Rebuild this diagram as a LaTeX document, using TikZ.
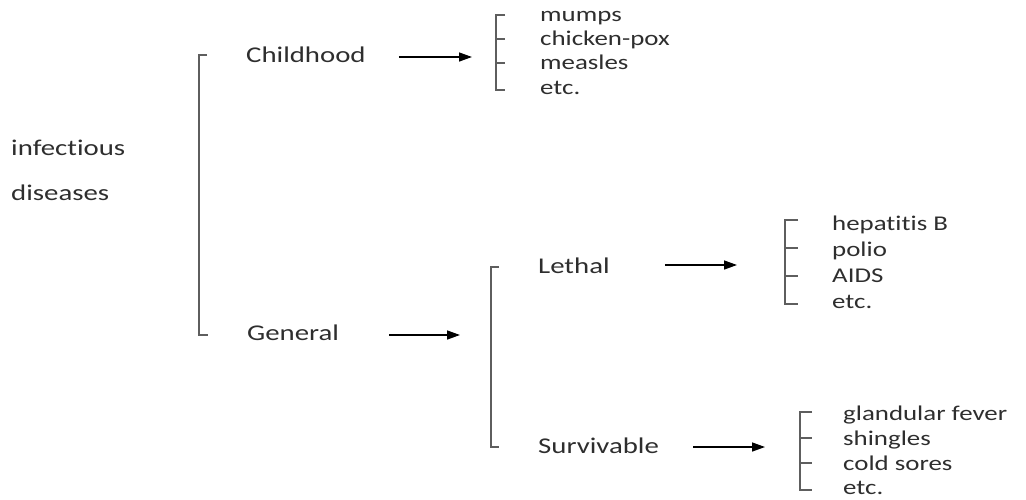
\documentclass[tikz,border=0pt]{standalone}
\usepackage{fontspec}
\setmainfont{Carlito}[FakeStretch=1.28, Ligatures={NoCommon}]
\usetikzlibrary{arrows.meta}
\definecolor{txtgray}{HTML}{2E2E2E}
\definecolor{brgray}{HTML}{5E5E5E}
\begin{document}
\begin{tikzpicture}[x = 1pt, y = -1pt,
    lbl/.style = {anchor = base west, inner sep = 0pt, text = txtgray,
                  font = \fontsize{22.5}{27}\selectfont},
    item/.style = {lbl, font = \fontsize{21}{25}\selectfont},
    brk/.style = {draw = brgray, line width = 2.3pt},
    arr/.style = {-{Triangle[length = 13pt, width = 9pt]}, line width = 1.4pt}]
\useasboundingbox (0, 0) rectangle (1026, 499);
% root and first split
\node[lbl] (inf) at (11, 155) {infectious};
\node[lbl] (dis) at (11, 200) {diseases};
\draw[brk, line width = 2.8pt] (207, 55) -- (199, 55) -- (199, 335) -- (208, 335);
\node[lbl] (child) at (246, 62) {Childhood};
\node[lbl] (gen) at (247, 340) {General};
% childhood list
\coordinate (cb) at (496, 57);
\draw[brk] (505, 15) -- (496, 15) -- (496, 90) -- (505, 90);
\foreach \y in {39, 63}
    \draw[brk] (496, \y) -- (505, \y);
\foreach \t/\y/\n in {mumps/21/c1, chicken-pox/45/c2, measles/69/c3, etc./94/c4}
    \node[item] (\n) at (540, \y) {\t};
\draw[arr, shorten <= 33pt, shorten >= 24pt] (child.east |- cb) -- (cb);
% general split
\coordinate (mb) at (491, 335);
\draw[brk] (499, 267) -- (491, 267) -- (491, 447) -- (499, 447);
\node[lbl] (leth) at (538, 273) {Lethal};
\node[lbl] (surv) at (538, 453) {Survivable};
\draw[arr, shorten <= 50pt, shorten >= 31pt] (gen.east |- mb) -- (mb);
% lethal list
\coordinate (lb) at (785, 265);
\draw[brk] (798, 220) -- (785, 220) -- (785, 304) -- (798, 304);
\foreach \y in {248, 276}
    \draw[brk] (785, \y) -- (798, \y);
\foreach \t/\y/\n in {hepatitis B/230/l1, polio/256/l2, AIDS/282/l3, etc./308/l4}
    \node[item] (\n) at (832, \y) {\t};
\draw[arr, shorten <= 55pt, shorten >= 48pt] (leth.east |- lb) -- (lb);
% survivable list
\coordinate (sb) at (800, 447);
\draw[brk] (812, 412) -- (800, 412) -- (800, 490) -- (812, 490);
\foreach \y in {438, 463}
    \draw[brk] (800, \y) -- (812, \y);
\foreach \t/\y/\n in {glandular fever/420/s1, shingles/445/s2, cold sores/470/s3, etc./494/s4}
    \node[item] (\n) at (843, \y) {\t};
\draw[arr, shorten <= 34pt, shorten >= 35pt] (surv.east |- sb) -- (sb);
\end{tikzpicture}
\end{document}
